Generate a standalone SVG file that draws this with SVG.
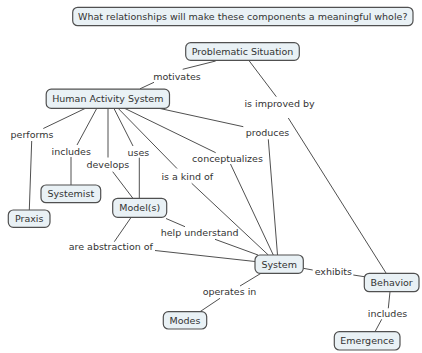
<svg xmlns="http://www.w3.org/2000/svg" width="422" height="353" viewBox="0 0 422 353">
  <style>
    .node rect { fill: #e9f1f5; stroke: #505050; stroke-width: 1.2; }
    text { font-family: "DejaVu Sans", Verdana, sans-serif; font-size: 9.5px; fill: #333; text-anchor: middle; dominant-baseline: central; }
    .conn line { stroke: #505050; stroke-width: 1; fill: none; }
  </style>
  <rect width="422" height="353" fill="#ffffff"/>

  <!-- connectors -->
  <g class="conn">
    <line x1="215.7" y1="61" x2="182.7" y2="69.3"/>
    <line x1="154" y1="82.3" x2="140" y2="88.8"/>
    <line x1="249.3" y1="61" x2="276.3" y2="96.7"/>
    <line x1="288.3" y1="118" x2="386" y2="273"/>
    <line x1="85" y1="108.5" x2="43.3" y2="128.5"/>
    <line x1="31.7" y1="141" x2="29.3" y2="210"/>
    <line x1="96.7" y1="108.5" x2="77" y2="145"/>
    <line x1="71" y1="157" x2="71" y2="185"/>
    <line x1="108" y1="108.5" x2="108" y2="157.5"/>
    <line x1="112.7" y1="171.7" x2="132.7" y2="198"/>
    <line x1="114" y1="108.5" x2="133" y2="146"/>
    <line x1="139.3" y1="157.7" x2="139.3" y2="198"/>
    <line x1="118.3" y1="108.5" x2="177" y2="168.5"/>
    <line x1="191.7" y1="183.3" x2="268.3" y2="255"/>
    <line x1="125" y1="108.5" x2="215.7" y2="152.7"/>
    <line x1="230.5" y1="164" x2="273.3" y2="255"/>
    <line x1="160" y1="108.5" x2="243.3" y2="126.7"/>
    <line x1="268.3" y1="139.3" x2="277.5" y2="255"/>
    <line x1="166" y1="218.5" x2="185" y2="226.7"/>
    <line x1="215" y1="239.3" x2="258" y2="255"/>
    <line x1="131" y1="217.5" x2="114.3" y2="241.7"/>
    <line x1="155" y1="250.5" x2="255" y2="261.5"/>
    <line x1="303.3" y1="268.3" x2="312.7" y2="270"/>
    <line x1="353.3" y1="275" x2="364.3" y2="276.7"/>
    <line x1="390" y1="291.7" x2="388.3" y2="308.3"/>
    <line x1="381.7" y1="319.3" x2="375" y2="331.7"/>
    <line x1="261" y1="273.3" x2="240" y2="286"/>
    <line x1="220" y1="298.3" x2="200" y2="311.7"/>
  </g>

  <!-- focus question -->
  <g id="question" class="node">
    <rect x="72.7" y="7.3" width="340.3" height="18.4" rx="5"/>
    <text x="242.8" y="16.5">What relationships will make these components a meaningful whole?</text>
  </g>

  <!-- concepts -->
  <g id="problematic-situation" class="node">
    <rect x="185.7" y="42.7" width="113.6" height="17.6" rx="5"/>
    <text x="242.5" y="51.5">Problematic Situation</text>
  </g>
  <g id="human-activity-system" class="node">
    <rect x="46.2" y="89.2" width="123.3" height="19.2" rx="5"/>
    <text x="107.8" y="98.8">Human Activity System</text>
  </g>
  <g id="systemist" class="node">
    <rect x="41" y="185" width="59.7" height="17.7" rx="5"/>
    <text x="70.8" y="193.8">Systemist</text>
  </g>
  <g id="praxis" class="node">
    <rect x="8.3" y="210" width="41.7" height="17.3" rx="5"/>
    <text x="29.2" y="218.7">Praxis</text>
  </g>
  <g id="models" class="node">
    <rect x="112.7" y="198.3" width="54" height="19" rx="5"/>
    <text x="139.7" y="207.8">Model(s)</text>
  </g>
  <g id="system" class="node">
    <rect x="255" y="255" width="48.3" height="18.3" rx="5"/>
    <text x="279.2" y="264.2">System</text>
  </g>
  <g id="behavior" class="node">
    <rect x="364.3" y="273.3" width="54.7" height="18.4" rx="5"/>
    <text x="391.7" y="282.5">Behavior</text>
  </g>
  <g id="emergence" class="node">
    <rect x="334.3" y="331.7" width="65.7" height="18.3" rx="5"/>
    <text x="367.2" y="340.8">Emergence</text>
  </g>
  <g id="modes" class="node">
    <rect x="163.3" y="311.7" width="43.4" height="17.3" rx="5"/>
    <text x="185" y="320.3">Modes</text>
  </g>

  <!-- linking phrases -->
  <g id="labels">
    <text x="177" y="76">motivates</text>
    <text x="279.5" y="103.3">is improved by</text>
    <text x="32" y="134.3">performs</text>
    <text x="71.2" y="151.7">includes</text>
    <text x="107.8" y="164">develops</text>
    <text x="138.3" y="152.3">uses</text>
    <text x="187.3" y="176.7">is a kind of</text>
    <text x="227.5" y="158.7">conceptualizes</text>
    <text x="267.5" y="132.3">produces</text>
    <text x="199.7" y="232.7">help understand</text>
    <text x="110.8" y="246.7">are abstraction of</text>
    <text x="333.3" y="271.7">exhibits</text>
    <text x="387.5" y="313.3">includes</text>
    <text x="229.5" y="291.7">operates in</text>
  </g>
</svg>
